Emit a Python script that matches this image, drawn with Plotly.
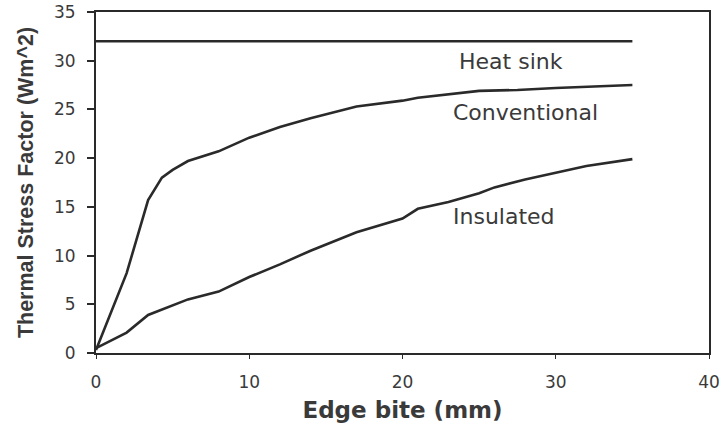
import plotly.graph_objects as go

# Edge bite (mm) vs thermal stress factor for three glass configurations
heat_sink_x = [0, 35]
heat_sink_y = [32, 32]

conventional_x = [0, 2, 3.4, 4.3, 5, 6, 8, 10, 12, 14, 17, 20, 21, 25, 27.5, 30, 35]
conventional_y = [0.3, 8.2, 15.7, 18.0, 18.8, 19.7, 20.7, 22.1, 23.2, 24.1, 25.3, 25.9, 26.2, 26.9, 27.0, 27.2, 27.5]

insulated_x = [0, 2, 3.4, 5, 6, 8, 10, 12, 14, 17, 20, 21, 23, 25, 26, 28, 30, 32, 35]
insulated_y = [0.5, 2.1, 3.9, 4.9, 5.5, 6.3, 7.8, 9.1, 10.5, 12.4, 13.8, 14.8, 15.5, 16.4, 17.0, 17.8, 18.5, 19.2, 19.9]

series_names = ["Heat sink", "Conventional", "Insulated"]
label_x = [27.1, 28.0, 26.6]
label_y = [29.9, 24.7, 14.0]

x_ticks = [0, 10, 20, 30, 40]
y_ticks = [0, 5, 10, 15, 20, 25, 30, 35]

INK = "#2a2a2a"
TEXT = "#3a3a3a"

fig = go.Figure()
for name, xs, ys in zip(series_names,
                        [heat_sink_x, conventional_x, insulated_x],
                        [heat_sink_y, conventional_y, insulated_y]):
    fig.add_trace(go.Scatter(x=xs, y=ys, mode="lines", name=name,
                             line=dict(color=INK, width=2.6), showlegend=False))

for name, lx, ly in zip(series_names, label_x, label_y):
    fig.add_annotation(x=lx, y=ly, text=name, showarrow=False,
                       font=dict(family="DejaVu Sans", size=22, color=TEXT))

fig.update_layout(
    width=722, height=426,
    margin=dict(l=96, r=13, t=12, b=73),
    paper_bgcolor="white", plot_bgcolor="white",
    xaxis=dict(
        range=[0, 40], tickvals=x_ticks, ticks="outside", ticklen=4,
        tickcolor=INK, tickwidth=1, showgrid=False, zeroline=False,
        showline=True, linecolor=INK, linewidth=2, mirror=True,
        automargin=False, ticklabelstandoff=9,
        tickfont=dict(family="DejaVu Sans", size=17, color=TEXT),
        title=dict(text="<b>Edge bite (mm)</b>", standoff=10,
                   font=dict(family="DejaVu Sans", size=23, color=TEXT)),
    ),
    yaxis=dict(
        range=[0, 35], tickvals=y_ticks, ticks="outside", ticklen=7,
        tickcolor=INK, tickwidth=1.5, showgrid=False, zeroline=False,
        showline=True, linecolor=INK, linewidth=2, mirror=True,
        automargin=False, ticklabelstandoff=8,
        tickfont=dict(family="DejaVu Sans", size=17, color=TEXT),
        title=dict(text="<b>Thermal Stress Factor (Wm^2)</b>", standoff=14,
                   font=dict(family="Liberation Sans, Arial", size=21.5, color=TEXT)),
    ),
)

fig.write_html("out.html")
